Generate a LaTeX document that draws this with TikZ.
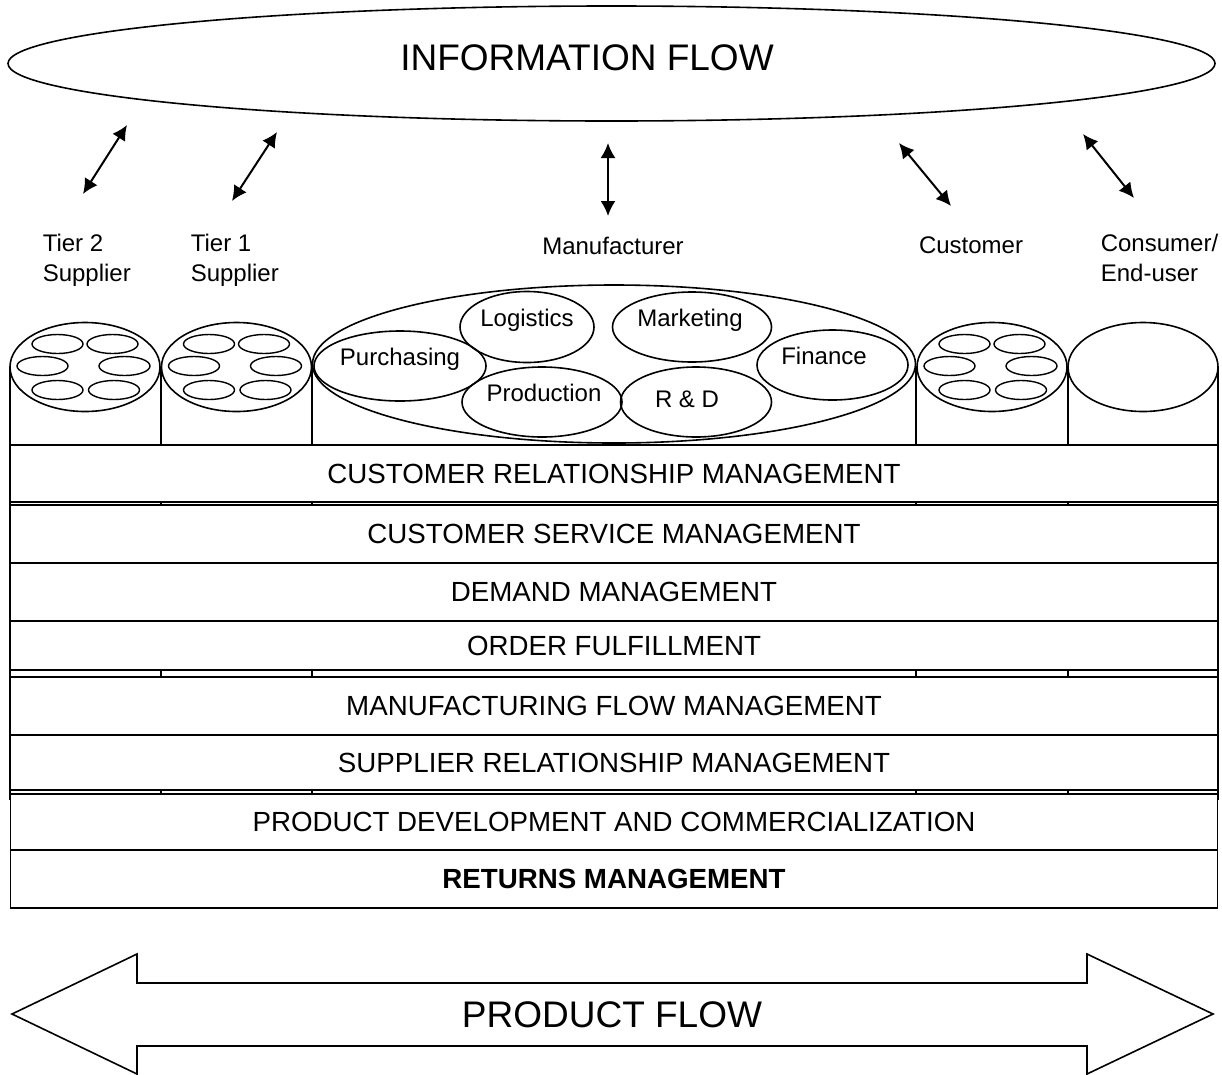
\documentclass[tikz,border=0pt]{standalone}
\usepackage{fontspec}
\setmainfont{Liberation Sans}
\usetikzlibrary{arrows.meta}
\begin{document}
\begin{tikzpicture}[x=1pt,y=-1pt,line width=1.6pt,
  lbl/.style={inner sep=0pt,font=\fontsize{24}{30}\selectfont,text height=17.2pt,text depth=0pt},
  lbltwo/.style={inner sep=0pt,font=\fontsize{24}{30}\selectfont,align=left,anchor=north west},
  bigtxt/.style={inner sep=0pt,font=\fontsize{37}{40}\selectfont,text height=26.5pt,text depth=0pt},
  flowarrow/.style={line width=2pt,{Latex[length=15pt,width=15pt]}-{Latex[length=15pt,width=15pt]}},
  bar/.style={draw,fill=white,rectangle,inner sep=0pt,minimum width=1207pt,
     font=\fontsize{27.7}{30}\selectfont,text height=19.8pt,text depth=0pt},
  small/.style={line width=1.4pt}]
\useasboundingbox (0,0) rectangle (1222,1074);

% information flow
\draw (611.5,63.5) ellipse [x radius=603.5, y radius=57.5];
\node[bigtxt] (info) at (587,57) {INFORMATION FLOW};

% two-way arrows
\coordinate (a1s) at (83,194);  \coordinate (a1e) at (127,125);
\coordinate (a2s) at (232,201); \coordinate (a2e) at (277,132);
\coordinate (a3s) at (608,216); \coordinate (a3e) at (608,143);
\coordinate (a4s) at (951,206); \coordinate (a4e) at (899,143);
\coordinate (a5s) at (1134,198); \coordinate (a5e) at (1083,134);
\draw[flowarrow] (a1s) -- (a1e);
\draw[flowarrow] (a2s) -- (a2e);
\draw[flowarrow] (a3s) -- (a3e);
\draw[flowarrow] (a4s) -- (a4e);
\draw[flowarrow] (a5s) -- (a5e);

% labels
\node[lbltwo] (t2) at (42,233) {Tier 2\\Supplier};
\node[lbltwo] (t1) at (190,233) {Tier 1\\Supplier};
\node[lbl] (man) at (613,246) {Manufacturer};
\node[lbl] (cust) at (971,245) {Customer};
\node[lbltwo] (cons) at (1100,233) {Consumer/\\End-user};

% cylinder sides
\foreach \x in {10,161,312,916,1068,1218}
  \draw (\x,366) -- (\x,800);

% small cylinders
\foreach \cx in {85,236.5,992}{
  \draw (\cx,367) ellipse [x radius=75, y radius=44.5];
  \begin{scope}[small]
  \draw (\cx-27.5,344) ellipse [x radius=25.5, y radius=9.5];
  \draw (\cx+27.5,344) ellipse [x radius=25.5, y radius=9.5];
  \draw (\cx-42.5,366) ellipse [x radius=25.5, y radius=9.5];
  \draw (\cx+39.5,366) ellipse [x radius=25.5, y radius=9.5];
  \draw (\cx-27.5,390) ellipse [x radius=25.5, y radius=9.5];
  \draw (\cx+29,390) ellipse [x radius=25.5, y radius=9.5];
  \end{scope}
}
\draw (1143,367) ellipse [x radius=75, y radius=44.5];

% manufacturer
\draw (614,364) ellipse [x radius=301.5, y radius=79];
\draw (400,366) ellipse [x radius=86, y radius=35];
\draw (527,327) ellipse [x radius=67, y radius=35.5];
\draw (542,402) ellipse [x radius=80, y radius=35];
\draw (692,327) ellipse [x radius=79.5, y radius=35];
\draw (696,402) ellipse [x radius=75.5, y radius=35];
\draw (832.5,365) ellipse [x radius=75.5, y radius=35];
\node[lbl] (pur) at (400,357) {Purchasing};
\node[lbl] (log) at (527,318) {Logistics};
\node[lbl] (pro) at (544,393) {Production};
\node[lbl] (mkt) at (690,318) {Marketing};
\node[lbl] (rd)  at (687,399) {R \& D};
\node[lbl] (fin) at (824,356) {Finance};

% process bars
\node[bar,minimum height=57pt] (crm) at (614,473.5) {CUSTOMER RELATIONSHIP MANAGEMENT};
\node[bar,minimum height=58pt] (csm) at (614,534) {CUSTOMER SERVICE MANAGEMENT};
\node[bar,minimum height=58pt] (dem) at (614,592) {DEMAND MANAGEMENT};
\node[bar,minimum height=49pt] (ord) at (614,645.5) {ORDER FULFILLMENT};
\node[bar,minimum height=58pt] (mfm) at (614,706) {MANUFACTURING FLOW MANAGEMENT};
\node[bar,minimum height=55pt] (srm) at (614,762.5) {SUPPLIER RELATIONSHIP MANAGEMENT};
\node[bar,minimum height=56pt] (pdc) at (614,822) {PRODUCT DEVELOPMENT AND COMMERCIALIZATION};
\node[bar,minimum height=58pt,font=\fontsize{27.7}{30}\selectfont\bfseries] (ret) at (614,879) {RETURNS MANAGEMENT};

% product flow
\draw (12,1014) -- (137,954) -- (137,983) -- (1087,983) -- (1087,954) -- (1213,1014)
  -- (1087,1074) -- (1087,1046) -- (137,1046) -- (137,1074) -- cycle;
\node[bigtxt] (prod) at (612,1014) {PRODUCT FLOW};
\end{tikzpicture}
\end{document}
